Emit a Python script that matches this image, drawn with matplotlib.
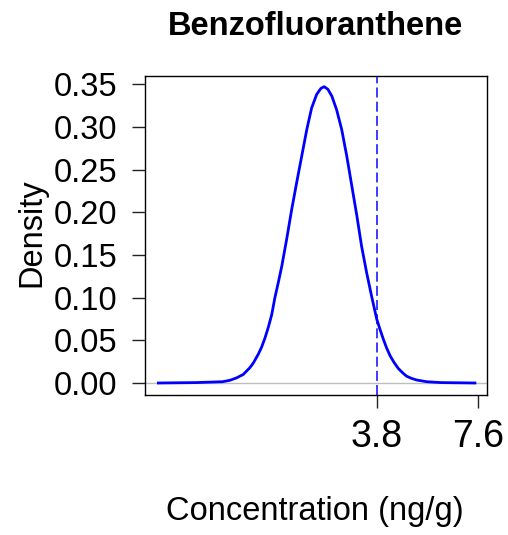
import matplotlib
matplotlib.use("Agg")
import matplotlib.pyplot as plt

plt.rcParams['font.family'] = ['Liberation Sans', 'DejaVu Sans']

title = "Benzofluoranthene"
x_label = "Concentration (ng/g)"
y_label = "Density"

# density curve
conc = [-4.41, -3.00, -2.00, -1.72, -1.47, -1.22, -0.97, -0.84, -0.65, -0.53,
        -0.40, -0.28, -0.15, -0.03, 0.10, 0.23, 0.41, 0.60, 0.79, 0.98, 1.17,
        1.35, 1.54, 1.70, 1.82, 1.96, 2.11, 2.29, 2.48, 2.67, 2.86, 3.05,
        3.23, 3.42, 3.61, 3.80, 3.93, 4.05, 4.17, 4.30, 4.45, 4.61, 4.77,
        4.92, 5.10, 5.30, 5.68, 6.20, 7.49]
density = [0.000, 0.0005, 0.0015, 0.0032, 0.0060, 0.010, 0.018, 0.0235, 0.034, 0.042,
           0.053, 0.065, 0.080, 0.100, 0.118, 0.137, 0.168, 0.203, 0.235, 0.266, 0.297,
           0.322, 0.338, 0.345, 0.347, 0.344, 0.336, 0.320, 0.297, 0.266, 0.231, 0.196,
           0.160, 0.129, 0.101, 0.0746, 0.062, 0.051, 0.041, 0.032, 0.024, 0.017, 0.012,
           0.008, 0.0055, 0.0035, 0.0015, 0.0005, 0.000]

threshold = 3.8
x_ticks = [3.8, 7.6]
x_tick_labels = ["3.8", "7.6"]
y_ticks = [0.00, 0.05, 0.10, 0.15, 0.20, 0.25, 0.30, 0.35]
y_tick_labels = ["0.00", "0.05", "0.10", "0.15", "0.20", "0.25", "0.30", "0.35"]

fig = plt.figure(figsize=(5.08, 5.35), dpi=100)
ax = fig.add_axes([145/508, 1-395/535, 342/508, 319/535])

ax.axhline(0, color="#bebebe", lw=1.0, zorder=1)
ax.plot(conc, density, color="blue", lw=2.0, zorder=3, solid_joinstyle='round')
ax.axvline(threshold, color="#1a1aff", lw=1.2, linestyle=(0, (6, 2.5)), zorder=2)

ax.set_xlim(-4.914, 7.944)
ax.set_ylim(-0.01405, 0.3595)

ax.set_xticks(x_ticks)
ax.set_xticklabels(x_tick_labels, fontsize=27)
ax.set_yticks(y_ticks)
ax.set_yticklabels(y_tick_labels, fontsize=23.5)

ax.tick_params(axis='both', length=9.4, width=1.0, color="#222222")
ax.tick_params(axis='y', pad=10.5)
ax.tick_params(axis='x', pad=8)
for s in ax.spines.values():
    s.set_linewidth(1.0)
    s.set_color("black")

fig.text(316/508, 1-35/535, title, ha='center', va='baseline',
         fontsize=23.5, fontweight='bold')
fig.text(315/508, 1-520/535, x_label, ha='center', va='baseline', fontsize=23.5)
fig.text(31.5/508, 1-233/535, y_label, ha='center', va='center',
         rotation=90, fontsize=23.5)

fig.savefig("out.png", dpi=100)
